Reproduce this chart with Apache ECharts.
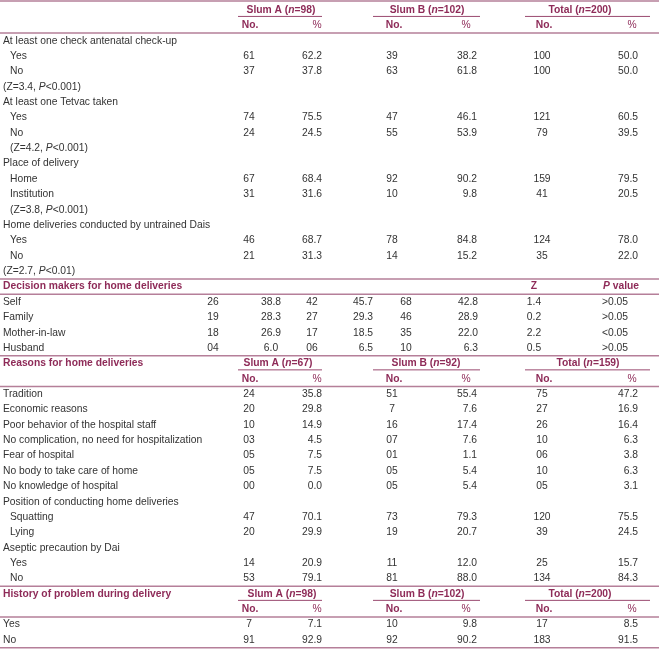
<!DOCTYPE html>
<html><head><meta charset="utf-8">
<script src="https://cdn.jsdelivr.net/npm/echarts@6/dist/echarts.min.js"></script>
<style>html,body{margin:0;padding:0;background:#fff}#c{width:659px;height:650px}</style>
</head><body><div id="c"></div>
<script>
// ---------------- DATA ----------------
const rowLabels = [
  '', '',
  'At least one check antenatal check-up', 'Yes', 'No', '(Z=3.4, P<0.001)',
  'At least one Tetvac taken', 'Yes', 'No', '(Z=4.2, P<0.001)',
  'Place of delivery', 'Home', 'Institution', '(Z=3.8, P<0.001)',
  'Home deliveries conducted by untrained Dais', 'Yes', 'No', '(Z=2.7, P<0.01)',
  'Decision makers for home deliveries', 'Self', 'Family', 'Mother-in-law', 'Husband',
  'Reasons for home deliveries', '',
  'Tradition', 'Economic reasons', 'Poor behavior of the hospital staff',
  'No complication, no need for hospitalization', 'Fear of hospital',
  'No body to take care of home', 'No knowledge of hospital',
  'Position of conducting home deliveries', 'Squatting', 'Lying',
  'Aseptic precaution by Dai', 'Yes', 'No',
  'History of problem during delivery', '', 'Yes', 'No'
];
const valueRows = [3,4,7,8,11,12,15,16,19,20,21,22,25,26,27,28,29,30,31,33,34,36,37,40,41];
const slumANo  = ['61','37','74','24','67','31','46','21','26','19','18','04','24','20','10','03','05','05','00','47','20','14','53','7','91'];
const slumAPct = ['62.2','37.8','75.5','24.5','68.4','31.6','68.7','31.3','38.8','28.3','26.9','6.0','35.8','29.8','14.9','4.5','7.5','7.5','0.0','70.1','29.9','20.9','79.1','7.1','92.9'];
const slumBNo  = ['39','63','47','55','92','10','78','14','42','27','17','06','51','7','16','07','01','05','05','73','19','11','81','10','92'];
const slumBPct = ['38.2','61.8','46.1','53.9','90.2','9.8','84.8','15.2','45.7','29.3','18.5','6.5','55.4','7.6','17.4','7.6','1.1','5.4','5.4','79.3','20.7','12.0','88.0','9.8','90.2'];
const totalNo  = ['100','100','121','79','159','41','124','35','68','46','35','10','75','27','26','10','06','10','05','120','39','25','134','17','183'];
const totalPct = ['50.0','50.0','60.5','39.5','79.5','20.5','78.0','22.0','42.8','28.9','22.0','6.3','47.2','16.9','16.4','6.3','3.8','6.3','3.1','75.5','24.5','15.7','84.3','8.5','91.5'];
const decisionRows = [19,20,21,22];
const zValues = ['1.4','0.2','2.2','0.5'];
const pValues = ['>0.05','>0.05','<0.05','>0.05'];
const groupNames = ['Slum A','Slum B','Total'];
const sizesTop = ['98','102','200'];
const sizesReasons = ['67','92','159'];
const sizesHistory = ['98','102','200'];
const colHeadNo = 'No.';
const colHeadPct = '%';

// ---------------- LAYOUT / STYLE ----------------
const FF = '"Liberation Sans", Arial, sans-serif';
const FS = 10.3;
const BODY = '#333333';
const HEAD = '#8e2b58';
const LINE = '#b57f99';
const indentRows = [3,4,7,8,9,11,12,13,15,16,33,34,36,37];
const stdX = [[249,'center'],[322,'right'],[392,'center'],[477,'right'],[542,'center'],[638,'right']];
const decX = [[213,'center'],[271,'center'],[312,'center'],[373,'right'],[406,'center'],[478,'right']];
const headerSets = [
  {row:0, sizes:sizesTop, xs:[281,427,580]},
  {row:23, sizes:sizesReasons, xs:[278,426,588]},
  {row:38, sizes:sizesHistory, xs:[282,427,580]}
];
const subHeadRows = [1,24,39];
const noHeadX = [250,394,544];
const pctHeadX = [317,466,632];
const underlineX = [[238,322],[373,480],[525,650]];
const titleRows = [18,23,38];

const RICH = {
  r:  {fontFamily:FF, fontSize:FS, fill:BODY, color:BODY},
  i:  {fontFamily:FF, fontSize:FS, fill:BODY, color:BODY, fontStyle:'italic'},
  h:  {fontFamily:FF, fontSize:FS, fill:HEAD, color:HEAD, fontWeight:'bold'},
  hi: {fontFamily:FF, fontSize:FS, fill:HEAD, color:HEAD, fontWeight:'bold', fontStyle:'italic'},
  hn: {fontFamily:FF, fontSize:FS, fill:HEAD, color:HEAD}
};
const esc = s => s;
const cells = [];
function add(x, row, text, align){ cells.push({x, row, text, align}); }

// row labels
rowLabels.forEach((lab, r) => {
  if (!lab) return;
  const x = indentRows.includes(r) ? 10 : 3;
  let t;
  if (titleRows.includes(r)) t = '{h|' + lab + '}';
  else if (lab.startsWith('(Z=')) {
    const k = lab.indexOf('P');
    t = '{r|' + lab.slice(0,k) + '}{i|P}{r|' + lab.slice(k+1) + '}';
  } else t = '{r|' + lab + '}';
  add(x, r, t, 'left');
});
// values
const series6 = [slumANo, slumAPct, slumBNo, slumBPct, totalNo, totalPct];
valueRows.forEach((r, i) => {
  const cols = decisionRows.includes(r) ? decX : stdX;
  series6.forEach((arr, j) => add(cols[j][0], r, '{r|' + arr[i] + '}', cols[j][1]));
});
decisionRows.forEach((r, i) => {
  add(534, r, '{r|' + zValues[i] + '}', 'center');
  add(615, r, '{r|' + pValues[i] + '}', 'center');
});
add(534, 18, '{h|Z}', 'center');
add(621, 18, '{hi|P}{h| value}', 'center');
// group headers
headerSets.forEach(hs => {
  groupNames.forEach((g, j) => add(hs.xs[j], hs.row, '{h|' + g + ' (}{hi|n}{h|=' + hs.sizes[j] + ')}', 'center'));
});
subHeadRows.forEach(r => {
  noHeadX.forEach(x => add(x, r, '{h|' + colHeadNo + '}', 'center'));
  pctHeadX.forEach(x => add(x, r, '{hn|' + colHeadPct + '}', 'center'));
});

// lines: [x1, x2, rowPos, width]
const lines = [];
[-0.58, 1.5, 17.5, 18.5, 22.5, 24.5, 37.5, 39.5, 41.5].forEach(p => lines.push([0, 659, p, 1.5]));
headerSets.forEach(hs => underlineX.forEach(u => lines.push([u[0], u[1], hs.row + 0.42, 1])));

const chart = echarts.init(document.getElementById('c'));
chart.setOption({
  animation: false,
  grid: {left:0, right:0, top:2.3, bottom:2.3},
  xAxis: {type:'value', min:0, max:659, show:false},
  yAxis: {type:'value', min:-0.5, max:41.5, inverse:true, show:false},
  series: [
    {
      type:'custom', silent:true, clip:false,
      data: lines.map(l => [l[0], l[2], l[1], l[3]]),
      encode: {x:0, y:1},
      renderItem: (params, api) => {
        const a = api.coord([api.value(0), api.value(1)]);
        const b = api.coord([api.value(2), api.value(1)]);
        return {type:'line', shape:{x1:a[0], y1:a[1], x2:b[0], y2:b[1]},
                style:{stroke: api.value(3) > 1 ? LINE : '#9a4a70', lineWidth: api.value(3)}};
      }
    },
    {
      type:'custom', silent:true, clip:false,
      data: cells.map(c => [c.x, c.row]),
      encode: {x:0, y:1},
      renderItem: (params, api) => {
        const c = cells[params.dataIndex];
        const p = api.coord([api.value(0), api.value(1)]);
        return {type:'text', x:p[0], y:p[1],
                style:{text:c.text, rich:RICH, align:c.align, verticalAlign:'middle',
                       fontFamily:FF, fontSize:FS, fill:BODY}};
      }
    }
  ]
});
</script></body></html>
